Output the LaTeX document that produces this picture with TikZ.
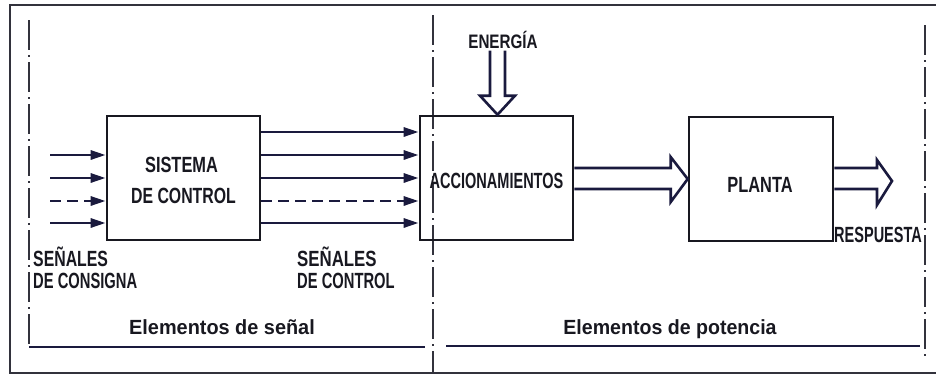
\documentclass[tikz,border=0pt]{standalone}
\usepackage{fontspec}
\usepackage{graphicx}
\setmainfont{Liberation Sans}
\usetikzlibrary{calc,arrows.meta}
\definecolor{ink}{RGB}{26,26,62}
\definecolor{txt}{RGB}{24,24,32}
\definecolor{frm}{RGB}{50,50,60}
\newcommand{\sx}[2]{\scalebox{#1}[1]{#2}}
\begin{document}
\begin{tikzpicture}[x=1pt,y=-1pt,
  box/.style={draw=txt, line width=2.6pt, minimum width=#1, minimum height=124pt, inner sep=0pt},
  lbl/.style={text=txt, font=\bfseries\fontsize{22}{26}\selectfont, inner sep=0pt},
  sig/.style={draw=ink, line width=2.8pt, -{Triangle[length=15pt,width=9pt]}},
  sigd/.style={sig, dash pattern=on 11pt off 6pt},
  hol/.style={draw=ink, line width=2.6pt, line join=miter},
  sep/.style={draw=frm, line width=2.2pt, dash pattern=on 30pt off 5pt on 2pt off 5pt},
  baseline/.style={draw=ink, line width=2.6pt}]
\useasboundingbox (0,0) rectangle (936,380);
\clip (0,0) rectangle (936,380);
\fill[white] (0,0) rectangle (936,380);
% frame
\draw[frm, line width=2.4pt] (945,5) -- (10,5) -- (10,373) -- (945,373);
% separators
\draw[sep] (29,20) -- (29,347);
\draw[sep] (433,15) -- (433,373);
\draw[sep] (925,25) -- (925,358);
\draw[baseline] (29,347) -- (425,347);
\draw[baseline] (446,346) -- (920,346);
% boxes
\node[box=153pt] (sc) at (183.5,178) {};
\node[box=153pt] (acc) at (496.5,178) {};
\node[box=144pt] (pl) at (761,179) {};
% input signals
\coordinate (in1) at (50,155);
\coordinate (in2) at (50,178);
\coordinate (in3) at (50,201);
\coordinate (in4) at (50,223);
\draw[sig] (in1) -- (in1 -| sc.west);
\draw[sig] (in2) -- (in2 -| sc.west);
\draw[sigd] (in3) -- (in3 -| sc.west);
\draw[sig] (in4) -- (in4 -| sc.west);
% control signals
\coordinate (o1) at (260,132);
\coordinate (o2) at (260,155);
\coordinate (o3) at (260,178);
\coordinate (o4) at (260,201);
\coordinate (o5) at (260,223);
\draw[sig] (o1 -| sc.east) -- (o1 -| acc.west);
\draw[sig] (o2 -| sc.east) -- (o2 -| acc.west);
\draw[sig] (o3 -| sc.east) -- (o3 -| acc.west);
\draw[sigd] (o4 -| sc.east) -- (o4 -| acc.west);
\draw[sig] (o5 -| sc.east) -- (o5 -| acc.west);
% power arrow acc -> planta
\draw[hol] ($(acc.east)+(0,-10)$) -- ($(pl.west)+(-17,-11)$) -- ($(pl.west)+(-17,-22)$)
  -- (pl.west) -- ($(pl.west)+(-17,23)$) -- ($(pl.west)+(-17,10)$) -- ($(acc.east)+(0,11)$);
% response arrow
\coordinate (rt) at (892,181);
\draw[hol] ($(pl.east)+(0,-11)$) -- ($(rt)+(-15,-13)$) -- ($(rt)+(-15,-21)$)
  -- (rt) -- ($(rt)+(-15,24)$) -- ($(rt)+(-15,8)$) -- ($(pl.east)+(0,10)$);
% energy arrow
\node[lbl, anchor=base, font=\bfseries\fontsize{19.5}{23}\selectfont] (energia) at (503,48) {\sx{0.78}{ENERGÍA}};
\coordinate (et) at ($(acc.north)+(1,0)$);
\draw[hol] ($(et)+(-7.5,-64)$) -- ($(et)+(-7.5,-19)$) -- ($(et)+(-17.5,-19)$)
  -- (et) -- ($(et)+(17.5,-19)$) -- ($(et)+(7.5,-19)$) -- ($(et)+(7.5,-64)$);
% labels
\node[lbl, anchor=base] (t1) at (181.5,172) {\sx{0.745}{SISTEMA}};
\node[lbl, anchor=base] (t2) at (183.5,203) {\sx{0.72}{DE CONTROL}};
\node[lbl, anchor=base] (t3) at (496.5,188) {\sx{0.66}{ACCIONAMIENTOS}};
\node[lbl, anchor=base] (t4) at (760,192) {\sx{0.745}{PLANTA}};
\node[lbl, anchor=base west] (resp) at (834,242) {\sx{0.66}{RESPUESTA}};
\node[lbl, anchor=base west] (sa1) at (33,266) {\sx{0.72}{SEÑALES}};
\node[lbl, anchor=base west] (sa2) at (33,288) {\sx{0.67}{DE CONSIGNA}};
\node[lbl, anchor=base west] (sb1) at (297,266) {\sx{0.765}{SEÑALES}};
\node[lbl, anchor=base west] (sb2) at (297,288) {\sx{0.67}{DE CONTROL}};
\node[lbl, anchor=base, font=\bfseries\fontsize{20.5}{25}\selectfont] (es) at (222,334) {\sx{0.97}{Elementos de señal}};
\node[lbl, anchor=base, font=\bfseries\fontsize{20.5}{25}\selectfont] (ep) at (670,334) {\sx{0.955}{Elementos de potencia}};
\end{tikzpicture}
\end{document}
